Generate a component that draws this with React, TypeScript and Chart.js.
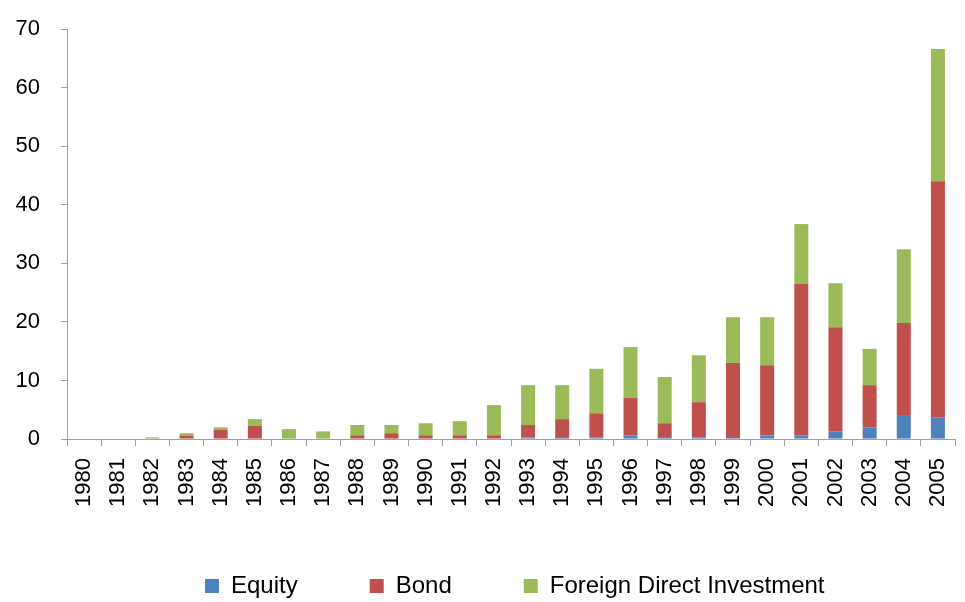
import React, { useEffect, useRef } from "react";
import { Chart, registerables } from "chart.js";

Chart.register(...registerables);

const years = [
  "1980", "1981", "1982", "1983", "1984", "1985", "1986", "1987", "1988",
  "1989", "1990", "1991", "1992", "1993", "1994", "1995", "1996", "1997",
  "1998", "1999", "2000", "2001", "2002", "2003", "2004", "2005",
];

const equity = [
  0, 0, 0, 0, 0, 0, 0, 0, 0, 0, 0, 0, 0, 0.3, 0.2, 0.3, 0.6, 0.2, 0.3, 0.2,
  0.6, 0.6, 1.3, 2.0, 4.1, 3.7,
];

const bond = [
  0, 0, 0, 0.6, 1.55, 2.25, 0, 0, 0.65, 1.0, 0.65, 0.65, 0.65, 2.1, 3.2, 4.1,
  6.4, 2.5, 6.0, 12.8, 12.0, 25.9, 17.8, 7.2, 15.7, 40.3,
];

const fdi = [
  0, 0, 0.3, 0.4, 0.45, 1.15, 1.7, 1.3, 1.75, 1.4, 2.05, 2.4, 5.15, 6.8, 5.8,
  7.6, 8.7, 7.9, 8.0, 7.8, 8.2, 10.2, 7.5, 6.2, 12.6, 22.6,
];

const seriesNames = ["Equity", "Bond", "Foreign Direct Investment"];
const yTicks = { min: 0, max: 70, step: 10 };

const FONT = "'Liberation Sans', Arial, sans-serif";
const AXIS_COLOR = "#A0A0A0";
const LEGEND_PAD = 72;

const legendShift = {
  id: "legendShift",
  afterLayout(chart: any) {
    const lg = chart.legend;
    if (!lg || !lg.lineWidths) return;
    const lw = lg.lineWidths[0];
    const start = (lg.left + LEGEND_PAD + lg.right - lw) / 2;
    const dx = 205 - start;
    lg.left += dx;
    lg.right += dx;
    const targetTop = 586 - 12 - LEGEND_PAD;
    lg.top = targetTop;
    lg.bottom = chart.height;
    lg.height = lg.bottom - lg.top;
  },
};

export default function App() {
  const ref = useRef<HTMLCanvasElement | null>(null);

  useEffect(() => {
    if (!ref.current) return;
    const chart = new Chart(ref.current, {
      type: "bar",
      data: {
        labels: years,
        datasets: [
          { label: seriesNames[0], data: equity, backgroundColor: "#4F81BD" },
          { label: seriesNames[1], data: bond, backgroundColor: "#C0504D" },
          { label: seriesNames[2], data: fdi, backgroundColor: "#9BBB59" },
        ],
      },
      options: {
        responsive: false,
        animation: false,
        layout: { padding: { top: 29, left: 15, right: 10, bottom: 0 } },
        datasets: {
          bar: { barPercentage: 0.41, categoryPercentage: 1.0 },
        },
        scales: {
          x: {
            stacked: true,
            afterFit(scale: any) {
              scale.paddingLeft = 0;
              scale.paddingRight = 0;
            },
            border: { display: true, color: AXIS_COLOR, width: 1 },
            grid: {
              display: true,
              drawOnChartArea: false,
              drawTicks: true,
              tickLength: 7,
              color: AXIS_COLOR,
              offset: true,
            },
            ticks: {
              minRotation: 90,
              maxRotation: 90,
              autoSkip: false,
              padding: 12,
              color: "#000",
              font: { family: FONT, size: 22 },
            },
          },
          y: {
            stacked: true,
            min: yTicks.min,
            max: yTicks.max,
            afterFit(scale: any) {
              scale.width = 52;
              scale.paddingTop = 0;
              scale.paddingBottom = 0;
            },
            border: { display: true, color: AXIS_COLOR, width: 1 },
            grid: {
              display: true,
              drawOnChartArea: false,
              drawTicks: true,
              tickLength: 6,
              color: AXIS_COLOR,
            },
            ticks: {
              stepSize: yTicks.step,
              padding: 21,
              color: "#000",
              font: { family: FONT, size: 22 },
            },
          },
        },
        plugins: {
          title: { display: false },
          tooltip: { enabled: false },
          legend: {
            display: true,
            position: "bottom",
            maxHeight: 83,
            labels: {
              boxWidth: 14,
              boxHeight: 14,
              padding: LEGEND_PAD,
              color: "#000",
              font: { family: FONT, size: 24 },
            },
          },
        },
      },
      plugins: [legendShift],
    });
    return () => chart.destroy();
  }, []);

  return (
    <canvas
      ref={ref}
      width={965}
      height={602}
      style={{ position: "absolute", left: 0, top: 0, display: "block" }}
    />
  );
}
